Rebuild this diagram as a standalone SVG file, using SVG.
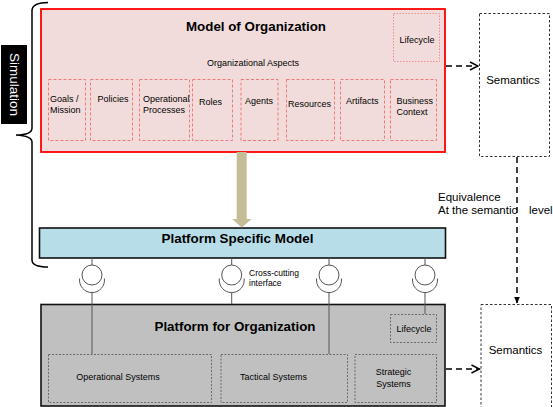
<svg xmlns="http://www.w3.org/2000/svg" width="553" height="407" viewBox="0 0 553 407">
<style>
text{font-family:"Liberation Sans",Arial,sans-serif;fill:#000}
.title{font-size:13px;font-weight:bold;text-anchor:middle}
.sm{font-size:9px}
.mid{text-anchor:middle}
.sem{font-size:11.5px}
.asp{fill:none;stroke:#f07878;stroke-width:1;stroke-dasharray:3 2}
.lc1{fill:none;stroke:#f07878;stroke-width:0.8;stroke-dasharray:1.5 1.5}
.sys{fill:none;stroke:#555;stroke-width:0.8;stroke-dasharray:2 1.5}
.semb{fill:#fff;stroke:#333;stroke-width:1;stroke-dasharray:2.5 2}
.dash{fill:none;stroke:#000;stroke-width:1.5;stroke-dasharray:6 4}
.lp{fill:none;stroke:#555;stroke-width:1}
</style>
<defs>
<marker id="open" markerWidth="10" markerHeight="10" refX="9" refY="5" orient="auto" markerUnits="userSpaceOnUse">
<path d="M1,1 L9,5 L1,9" fill="none" stroke="#000" stroke-width="1.5"/>
</marker>
<marker id="fill" markerWidth="8" markerHeight="8" refX="7" refY="4" orient="auto" markerUnits="userSpaceOnUse">
<path d="M0,1 L7,4 L0,7 Z" fill="#000"/>
</marker>
</defs>

<g id="simulation">
<path d="M48,2.5 Q33,2.5 32,10 L32,128 Q32,135 16,135 Q32,136 32,142 L32,260 Q32,267 48,267" fill="none" stroke="#000" stroke-width="1.5"/>
<rect x="1" y="45" width="26" height="79" fill="#000"/>
<text transform="translate(9.5,84.5) rotate(90)" style="font-size:13.5px;fill:#fff" text-anchor="middle">Simulation</text>
</g>

<g id="model-of-organization">
<rect x="41" y="9" width="404" height="143" fill="#f2dcdb" stroke="#ff0000" stroke-width="1.8"/>
<text class="title" x="256" y="31" textLength="140" lengthAdjust="spacingAndGlyphs">Model of Organization</text>
<text class="sm mid" x="253" y="66">Organizational Aspects</text>
<rect class="lc1" x="393.5" y="13.5" width="46" height="48"/>
<text class="sm mid" x="417" y="43">Lifecycle</text>
<g id="aspects">
<rect class="asp" x="48.5" y="79.5" width="37" height="61"/>
<text class="sm" x="50" y="101.5">Goals /</text>
<text class="sm" x="50" y="112.5">Mission</text>
<rect class="asp" x="90.5" y="79.5" width="42" height="61"/>
<text class="sm" x="97.5" y="101.5">Policies</text>
<rect class="asp" x="139.5" y="79.5" width="50" height="61"/>
<text class="sm" x="143" y="101.5">Operational</text>
<text class="sm" x="143" y="112.5">Processes</text>
<rect class="asp" x="192.5" y="79.5" width="40" height="61"/>
<text class="sm" x="199" y="105">Roles</text>
<rect class="asp" x="241" y="79.5" width="37" height="61"/>
<text class="sm" x="245" y="103.5">Agents</text>
<rect class="asp" x="286.5" y="79.5" width="48" height="61"/>
<text class="sm" x="288" y="106.5">Resources</text>
<rect class="asp" x="340.5" y="79.5" width="44" height="61"/>
<text class="sm" x="346" y="103.5">Artifacts</text>
<rect class="asp" x="390.5" y="79.5" width="46" height="61"/>
<text class="sm" x="396.5" y="103.5">Business</text>
<text class="sm" x="396.5" y="114.5">Context</text>
</g>
</g>

<g id="semantics-top">
<rect class="semb" x="479.5" y="13.5" width="70" height="143"/>
<text class="sem mid" x="513" y="84">Semantics</text>
</g>

<g id="platform-specific-model">
<rect x="39.5" y="228" width="406" height="30" fill="#b7dde8" stroke="#111" stroke-width="1.6"/>
<text class="title" x="237.5" y="242.5" textLength="152" lengthAdjust="spacingAndGlyphs">Platform Specific Model</text>
</g>

<g id="platform-for-organization">
<rect x="41" y="304.5" width="404" height="101.5" fill="#c0c0c0" stroke="#111" stroke-width="1.6"/>
<text class="title" x="235" y="331" textLength="161" lengthAdjust="spacingAndGlyphs">Platform for Organization</text>
<rect class="sys" x="390.5" y="314.5" width="46" height="28"/>
<text class="sm mid" x="414" y="332">Lifecycle</text>
<rect class="sys" x="48.5" y="354.5" width="163" height="48"/>
<text class="sm mid" x="118" y="380">Operational Systems</text>
<rect class="sys" x="221" y="354.5" width="126.5" height="48"/>
<text class="sm mid" x="273.5" y="380">Tactical Systems</text>
<rect class="sys" x="355" y="354.5" width="81.5" height="48"/>
<text class="sm mid" x="393.5" y="375">Strategic</text>
<text class="sm mid" x="393.5" y="387">Systems</text>
</g>

<g id="semantics-bottom">
<rect class="semb" x="481" y="304.5" width="70.5" height="110"/>
<text class="sem mid" x="515.5" y="354">Semantics</text>
</g>

<g id="connectors">
<path d="M236.7,152 L246.7,152 L246.7,219 L251.7,219 L241.7,227.5 L232.2,219 L236.7,219 Z" fill="#c4bd97"/>
<line class="dash" x1="446" y1="66" x2="478" y2="66" marker-end="url(#open)"/>
<line class="dash" x1="446" y1="369" x2="479.5" y2="369" marker-end="url(#open)"/>
<line class="dash" x1="517" y1="157" x2="517" y2="303.5" marker-end="url(#fill)"/>
<g id="interfaces">
<path class="lp" d="M92,258 V265 M79.6,278.5 A12.5 12.5 0 1 0 104.4,278.5 M92,292.5 V354"/>
<circle class="lp" cx="92" cy="275" r="10"/>
<path class="lp" d="M231.7,258 V265 M219.3,278.5 A12.5 12.5 0 1 0 244.1,278.5 M231.7,292.5 V304"/>
<circle class="lp" cx="231.7" cy="275" r="10"/>
<path class="lp" d="M329,258 V265 M316.6,278.5 A12.5 12.5 0 1 0 341.4,278.5 M329,292.5 V354"/>
<circle class="lp" cx="329" cy="275" r="10"/>
<path class="lp" d="M425,258 V265 M412.6,278.5 A12.5 12.5 0 1 0 437.4,278.5 M425,292.5 V314"/>
<circle class="lp" cx="425" cy="275" r="10"/>
</g>
</g>

<g id="labels">
<text style="font-size:8.5px" x="249" y="275.5">Cross-cutting</text>
<text style="font-size:8.5px" x="249" y="286">interface</text>
<text class="sem" x="438" y="200.5">Equivalence</text>
<text class="sem" x="438" y="214">At the semantic<tspan x="529">level</tspan></text>
</g>
</svg>
